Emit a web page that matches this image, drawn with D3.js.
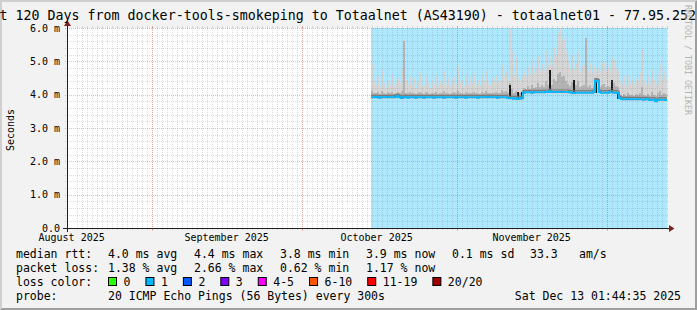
<!DOCTYPE html>
<html>
<head>
<meta charset="utf-8">
<script src="https://cdn.jsdelivr.net/npm/d3@7"></script>
<style>
html, body { margin: 0; padding: 0; background: #f2f2f2; }
svg { display: block; }
text { font-family: "DejaVu Sans Mono", monospace; fill: #000; }
</style>
</head>
<body>
<div id="chart"></div>
<script>
// time range of the graph (last 120 days)
var startTime = new Date(2025, 7, 15, 1, 44, 35);
var endTime = new Date(2025, 11, 13, 1, 44, 35);
// first sample and spacing of the consolidated samples
var dataStart = new Date(2025, 9, 14, 21, 0, 0);
var stepHours = 9.6;

// median rtt (ms) per sample
var median = [
  3.92,3.92,3.93,3.92,3.91,3.92,3.92,3.92,3.93,3.92,
  3.92,3.92,3.94,3.95,3.92,3.90,3.93,3.92,3.91,3.92,
  3.92,3.92,3.91,3.92,3.92,3.92,3.91,3.92,3.92,3.92,
  3.92,3.91,3.92,3.92,3.92,3.92,3.91,3.92,3.92,3.92,
  3.92,3.92,3.91,3.92,3.92,3.92,3.92,3.91,3.92,3.92,
  3.92,3.92,3.92,3.91,3.92,3.92,3.92,3.92,3.93,3.92,
  3.92,3.92,3.92,3.91,3.92,3.92,3.92,3.92,3.90,3.89,
  3.89,3.88,3.89,3.87,3.88,3.89,
  4.06,4.07,4.07,4.07,4.06,4.07,4.07,4.07,4.07,4.07,
  4.07,4.08,4.08,4.10,4.08,4.08,4.08,4.08,4.08,4.08,
  4.08,4.08,4.08,4.07,4.06,4.05,4.06,4.06,4.06,4.06,
  4.06,4.06,4.06,4.06,4.06,4.08,4.42,4.40,4.08,4.06,
  4.06,4.06,4.06,4.07,4.07,4.06,4.06,4.05,
  3.90,3.87,3.86,3.86,3.87,3.86,3.86,3.86,3.86,3.86,
  3.86,3.86,3.85,3.86,3.86,3.84,3.85,3.85,3.80,3.84,3.85,3.85,3.85,3.84
];
// highest ping of each sample (top of the light smoke)
var upper = [
  4.95,4.40,4.30,4.55,4.25,4.70,4.35,4.20,4.45,4.30,
  4.60,4.25,4.40,4.50,4.35,4.80,5.65,4.45,4.30,4.55,
  4.30,4.50,4.20,4.40,4.65,4.30,4.25,4.55,4.35,4.20,
  4.45,4.30,4.60,4.25,4.40,4.35,4.70,4.30,4.50,4.25,
  4.40,4.55,4.30,4.85,4.35,4.45,4.25,4.60,4.30,4.50,
  4.35,4.65,4.30,4.45,4.25,4.55,4.40,4.75,4.35,4.30,
  4.50,4.40,4.60,4.35,4.45,4.90,4.55,4.70,4.40,5.98,
  5.30,4.60,5.10,4.50,4.40,4.55,
  4.70,4.55,4.85,4.60,5.00,4.65,4.80,5.15,4.70,4.90,
  4.75,5.30,4.85,5.10,4.90,5.40,5.20,5.85,6.00,5.60,
  5.70,5.30,5.00,4.80,5.20,4.75,4.95,5.28,4.70,4.85,
  4.90,5.70,4.75,4.95,4.65,4.85,4.70,4.80,4.70,4.95,
  4.98,4.70,4.85,4.75,5.10,5.05,4.80,4.70,
  4.40,4.30,4.55,4.25,4.60,4.35,4.45,4.30,4.50,4.40,
  4.65,5.34,4.40,4.30,4.55,4.35,4.74,4.45,4.30,4.60,4.95,4.40,4.70,4.50
];
// top of the denser (darker) smoke
var mid = [
  4.12,4.05,4.04,4.08,4.03,4.10,4.05,4.02,4.07,4.04,
  4.08,4.03,4.06,4.08,4.05,4.12,5.60,4.06,4.04,4.07,
  4.04,4.06,4.02,4.05,4.09,4.04,4.03,4.07,4.05,4.02,
  4.06,4.04,4.08,4.03,4.05,4.05,4.10,4.04,4.06,4.03,
  4.05,4.07,4.04,4.12,4.05,4.06,4.03,4.08,4.04,4.06,
  4.05,4.09,4.04,4.06,4.03,4.07,4.05,4.10,4.05,4.04,
  4.06,4.05,4.08,4.05,4.06,4.14,4.08,4.10,4.05,4.35,
  4.18,4.06,4.12,4.05,4.04,4.06,
  4.20,4.16,4.26,4.18,4.30,4.20,4.24,4.36,4.22,4.28,
  4.24,4.42,4.28,4.38,4.30,4.48,4.40,4.62,4.68,4.52,
  4.55,4.40,4.32,4.26,4.38,4.24,4.30,4.42,4.22,4.26,
  4.28,5.70,4.24,4.30,4.20,4.27,4.50,4.50,4.24,4.30,
  4.32,4.22,4.27,4.24,4.38,4.35,4.26,4.22,
  4.00,3.96,4.02,3.95,4.04,3.98,4.00,3.96,4.01,3.98,
  4.06,4.22,3.99,3.96,4.02,3.97,4.08,4.00,3.96,4.04,4.12,3.99,4.06,4.01
];
// lowest ping of each sample
var low = [
  3.87,3.87,3.88,3.86,3.86,3.87,3.87,3.86,3.88,3.87,
  3.87,3.86,3.88,3.89,3.86,3.84,3.87,3.87,3.85,3.87,
  3.87,3.86,3.85,3.87,3.87,3.86,3.85,3.87,3.87,3.86,
  3.87,3.85,3.87,3.86,3.87,3.87,3.85,3.87,3.86,3.87,
  3.87,3.86,3.85,3.87,3.87,3.86,3.87,3.85,3.87,3.86,
  3.87,3.86,3.87,3.85,3.87,3.86,3.87,3.87,3.88,3.86,
  3.87,3.86,3.87,3.85,3.87,3.86,3.87,3.86,3.84,3.83,
  3.83,3.82,3.83,3.80,3.82,3.83,
  4.01,4.02,4.01,4.02,4.00,4.02,4.01,4.02,4.01,4.02,
  4.01,4.03,4.02,4.04,4.02,4.03,4.02,4.02,4.03,4.02,
  4.02,4.03,4.02,4.01,4.00,3.99,4.01,4.00,4.01,4.00,
  4.01,4.00,4.01,4.00,4.01,4.02,4.05,4.06,4.02,4.00,
  4.01,4.00,4.01,4.01,4.02,4.00,4.01,3.99,
  3.84,3.81,3.80,3.81,3.81,3.80,3.81,3.80,3.81,3.80,
  3.81,3.80,3.79,3.81,3.80,3.78,3.80,3.79,3.74,3.78,3.80,3.79,3.80,3.78
];
// samples where the smoke is nearly black
var blackIdx = [69, 73, 75, 89, 101, 112, 120, 123];
var blackTop = [4.30, 4.08, 4.07, 4.74, 4.44, 4.45, 4.44, 4.07];
var blackBottom = [3.90, 3.86, 3.87, 4.05, 4.04, 4.05, 4.04, 3.88];

var yTicks = [0, 1, 2, 3, 4, 5, 6];
var yLabels = ["0.0", "1.0 m", "2.0 m", "3.0 m", "4.0 m", "5.0 m", "6.0 m"];
var monthStarts = [new Date(2025, 7, 1), new Date(2025, 8, 1), new Date(2025, 9, 1), new Date(2025, 10, 1)];
var monthLabels = ["August 2025", "September 2025", "October 2025", "November 2025"];

var title = "Last 120 Days from docker-tools-smokeping to Totaalnet (AS43190) - totaalnet01 - 77.95.252";
var rttStats = ["4.0 ms avg", "4.4 ms max", "3.8 ms min", "3.9 ms now", "0.1 ms sd"];
var amValue = "33.3";
var lossStats = ["1.38 % avg", "2.66 % max", "0.62 % min", "1.17 % now"];
var lossLabels = ["0", "1", "2", "3", "4-5", "6-10", "11-19", "20/20"];
var lossColors = ["#26ff00", "#00b8ff", "#0059ff", "#7e00ff", "#ff00ff", "#ff5500", "#ff0000", "#a10000"];
var probeText = "20 ICMP Echo Pings (56 Bytes) every 300s";
var stampText = "Sat Dec 13 01:44:35 2025";

var W = 697, H = 310;
var pL = 67, pR = 667, pT = 28, pB = 228;

var svg = d3.select("#chart").append("svg")
  .attr("width", W).attr("height", H);

svg.append("rect").attr("width", W).attr("height", H).attr("fill", "#f2f2f2");
// 3d border
svg.append("path").attr("fill", "#cfcfcf")
  .attr("d", "M0," + H + "L2," + (H - 2) + "L2,2L" + (W - 2) + ",2L" + W + ",0L0,0Z");
svg.append("path").attr("fill", "#9e9e9e")
  .attr("d", "M2," + (H - 2) + "L" + (W - 2) + "," + (H - 2) + "L" + (W - 2) + ",2L" + W + ",0L" + W + "," + H + "L0," + H + "Z");

var x = d3.scaleTime().domain([startTime, endTime]).range([pL, pR]);
var y = d3.scaleLinear().domain([0, 6]).range([pB, pT]);

// canvas
svg.append("rect").attr("x", pL).attr("y", pT)
  .attr("width", pR - pL).attr("height", pB - pT).attr("fill", "#fff");

var times = median.map(function (d, i) { return d3.timeMinute.offset(dataStart, i * stepHours * 60); });
var px = function (i) {
  var t = i < times.length ? times[i] : d3.timeMinute.offset(dataStart, i * stepHours * 60);
  return Math.min(pR, Math.round(x(t)));
};

var g = svg.append("g").attr("shape-rendering", "crispEdges");

// loss background
g.append("rect")
  .attr("x", px(0)).attr("y", pT)
  .attr("width", pR - px(0)).attr("height", pB - pT)
  .attr("fill", lossColors[1]).attr("fill-opacity", 0.32);

// light smoke
g.selectAll(".smoke1").data(median).enter().append("rect")
  .attr("x", function (d, i) { return px(i); })
  .attr("width", function (d, i) { return px(i + 1) - px(i); })
  .attr("y", function (d, i) { return Math.round(y(Math.min(6, upper[i]))); })
  .attr("height", function (d, i) { return Math.round(y(low[i])) - Math.round(y(Math.min(6, upper[i]))); })
  .attr("fill", "#d6d6d6");

// denser smoke
g.selectAll(".smoke2").data(median).enter().append("rect")
  .attr("x", function (d, i) { return px(i); })
  .attr("width", function (d, i) { return px(i + 1) - px(i); })
  .attr("y", function (d, i) { return Math.round(y(mid[i])); })
  .attr("height", function (d, i) { return Math.round(y(d)) - Math.round(y(mid[i])); })
  .attr("fill", "#b4b4b4");

// black columns
g.selectAll(".blk").data(blackIdx).enter().append("rect")
  .attr("x", function (d) { return px(d); })
  .attr("width", function (d) { return px(d + 1) - px(d); })
  .attr("y", function (d, k) { return Math.round(y(blackTop[k])); })
  .attr("height", function (d, k) { return Math.round(y(blackBottom[k])) - Math.round(y(blackTop[k])); })
  .attr("fill", "#1a1a1a");

// median line, coloured by loss, with the dense smoke edge just above it
var linePts = median.map(function (d, i) { return [px(i), y(d)]; });
linePts.push([pR, y(median[median.length - 1])]);
var stepLine = d3.line().curve(d3.curveStepAfter);
svg.append("path")
  .attr("d", stepLine(linePts)).attr("transform", "translate(0,-2)")
  .attr("fill", "none").attr("stroke", "#7a7a7a").attr("stroke-width", 1.2);
svg.append("path")
  .attr("d", stepLine(linePts))
  .attr("fill", "none").attr("stroke", lossColors[1]).attr("stroke-width", 2);

// grid (drawn on top like rrdtool)
var grid = svg.append("g").attr("shape-rendering", "crispEdges");
var minorCol = "rgba(143,143,143,0.3)", majorCol = "rgba(222,79,79,0.4)";
var days = d3.timeDay.range(d3.timeDay.offset(startTime, 1), endTime);
var months = d3.timeMonth.range(startTime, endTime);
days.forEach(function (d) {
  var xx = Math.round(x(d)) + 0.5;
  grid.append("line").attr("x1", xx).attr("x2", xx).attr("y1", pT).attr("y2", pB)
    .attr("stroke", minorCol).attr("stroke-dasharray", "1,1");
  grid.append("line").attr("x1", xx).attr("x2", xx).attr("y1", pB).attr("y2", pB + 2).attr("stroke", minorCol);
  grid.append("line").attr("x1", xx).attr("x2", xx).attr("y1", pT - 2).attr("y2", pT).attr("stroke", minorCol);
});
months.forEach(function (d) {
  var xx = Math.round(x(d)) + 0.5;
  grid.append("line").attr("x1", xx).attr("x2", xx).attr("y1", pT).attr("y2", pB)
    .attr("stroke", majorCol).attr("stroke-dasharray", "1,1");
  grid.append("line").attr("x1", xx).attr("x2", xx).attr("y1", pB).attr("y2", pB + 3).attr("stroke", majorCol);
  grid.append("line").attr("x1", xx).attr("x2", xx).attr("y1", pT - 2).attr("y2", pT).attr("stroke", majorCol);
});
d3.range(0, 6.01, 0.2).forEach(function (v) {
  var yy = Math.round(y(v)) + 0.5;
  var major = Math.abs(v - Math.round(v)) < 1e-6;
  grid.append("line").attr("x1", pL - 2).attr("x2", pR + 2).attr("y1", yy).attr("y2", yy)
    .attr("stroke", major ? majorCol : minorCol).attr("stroke-dasharray", "1,1");
});

// axes
svg.append("line").attr("x1", pL - 4).attr("x2", pR + 4).attr("y1", pB + 0.5).attr("y2", pB + 0.5)
  .attr("stroke", "#1f1f1f");
svg.append("line").attr("x1", pL + 0.5).attr("x2", pL + 0.5).attr("y1", pB + 4).attr("y2", pT - 4)
  .attr("stroke", "#1f1f1f");
svg.append("path").attr("fill", "#801f1f")
  .attr("d", "M" + (pR + 2) + "," + (pB - 3) + "L" + (pR + 2) + "," + (pB + 4) + "L" + (pR + 7.5) + "," + (pB + 0.5) + "Z");
svg.append("path").attr("fill", "#801f1f")
  .attr("d", "M" + (pL - 3) + "," + (pT - 2) + "L" + (pL + 4) + "," + (pT - 2) + "L" + (pL + 0.5) + "," + (pT - 7.5) + "Z");

// y labels
svg.selectAll(".ylab").data(yTicks).enter().append("text")
  .attr("x", pL - 7).attr("y", function (d) { return y(d) + 3.5; })
  .attr("text-anchor", "end").attr("font-size", "10px")
  .text(function (d, i) { return yLabels[i]; });

// month labels
svg.selectAll(".xlab").data(monthStarts).enter().append("text")
  .attr("x", function (d) { return x(d3.timeDay.offset(d, 15)); })
  .attr("y", 241).attr("text-anchor", "middle").attr("font-size", "10px")
  .text(function (d, i) { return monthLabels[i]; });

// unit
svg.append("text").attr("transform", "translate(14," + ((pT + pB) / 2 + 2) + ") rotate(-90)")
  .attr("text-anchor", "middle").attr("font-size", "10px").text("Seconds");

// title
svg.append("text").attr("x", -24.5).attr("y", 20).attr("font-size", "13.3px").text(title);

// watermark
svg.append("text").attr("transform", "translate(685,5) rotate(90)")
  .attr("font-size", "8.3px").style("fill", "#b4b4b4").text("RRDTOOL / TOBI OETIKER");

// legend
var fs = "11.5px";
var col0 = 16, col1 = 108, step = 86;
var leg = svg.append("g").attr("font-size", fs);
leg.append("text").attr("x", col0).attr("y", 258).text("median rtt:");
rttStats.forEach(function (s, i) {
  leg.append("text").attr("x", col1 + i * step).attr("y", 258).text(s);
});
leg.append("text").attr("x", 530).attr("y", 258).text(amValue);
leg.append("text").attr("x", 579).attr("y", 258).text("am/s");

leg.append("text").attr("x", col0).attr("y", 272).text("packet loss:");
lossStats.forEach(function (s, i) {
  leg.append("text").attr("x", col1 + i * step).attr("y", 272).text(s);
});

leg.append("text").attr("x", col0).attr("y", 286).text("loss color:");
var bx = col1 + 0.5;
lossLabels.forEach(function (s, i) {
  leg.append("rect").attr("x", bx).attr("y", 277.5).attr("width", 8).attr("height", 8)
    .attr("fill", lossColors[i]).attr("stroke", "#000").attr("stroke-width", 1);
  var t = leg.append("text").attr("x", bx + 15).attr("y", 286).text(s);
  bx += 15 + t.node().getComputedTextLength() + 15.5;
});

leg.append("text").attr("x", col0).attr("y", 300).text("probe:");
leg.append("text").attr("x", col1).attr("y", 300).text(probeText);
leg.append("text").attr("x", 681).attr("y", 300).attr("text-anchor", "end").text(stampText);
</script>
</body>
</html>
